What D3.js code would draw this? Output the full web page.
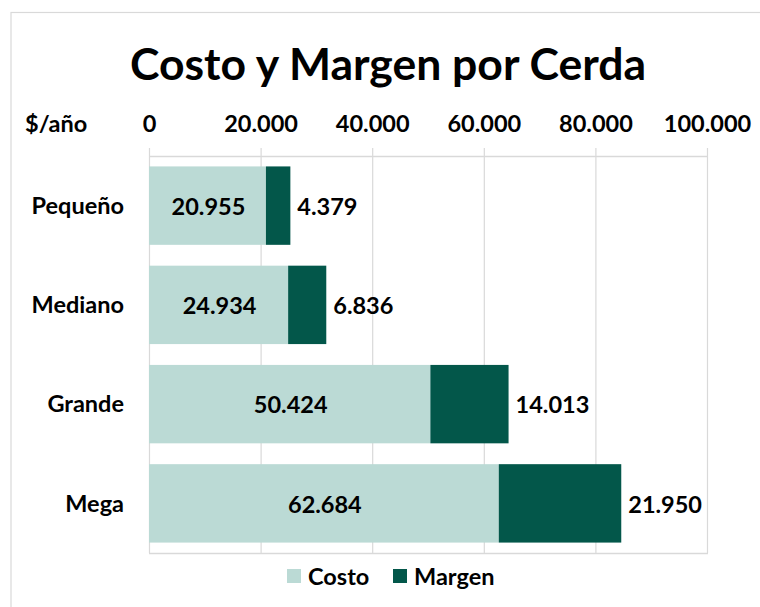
<!DOCTYPE html>
<html><head><meta charset="utf-8">
<script src="https://cdn.jsdelivr.net/npm/d3@7"></script>
<style>body{margin:0;background:#fff}svg{display:block}text{font-family:Lato,"Open Sans",sans-serif;font-weight:bold;fill:#000}</style>
</head><body><svg id="c" width="760" height="607"></svg>
<script>
const categories = ["Pequeño", "Mediano", "Grande", "Mega"];
const costo = [20955, 24934, 50424, 62684];
const margen = [4379, 6836, 14013, 21950];
const tickValues = [0, 20000, 40000, 60000, 80000, 100000];
const seriesNames = ["Costo", "Margen"];
const colors = ["#BBDAD5", "#03574A"];

const svg = d3.select("#c");
const fmt = v => d3.format(",")(v).replace(/,/g, ".");
const L = 149, R = 707, T = 156, B = 553;
const FS = "23.5px";
const x = d3.scaleLinear().domain([0, 100000]).range([L, R]);
const y = d3.scaleBand().domain(categories).range([T, B]).paddingInner(0.21).paddingOuter(0.105);

svg.append("rect").attr("x", 11).attr("y", 12.5).attr("width", 800).attr("height", 700)
  .attr("fill", "none").attr("stroke", "#d9d9d9").attr("stroke-width", 1.2);

svg.append("text").attr("x", 388).attr("y", 80).attr("text-anchor", "middle")
  .style("font-size", "44.5px").text("Costo y Margen por Cerda");

// gridlines
svg.append("g").selectAll("line").data(tickValues).join("line")
  .attr("x1", d => x(d) + 0.5).attr("x2", d => x(d) + 0.5).attr("y1", T - 8).attr("y2", B)
  .attr("stroke", "#d9d9d9").attr("stroke-width", 1.2);
svg.append("line").attr("x1", L).attr("x2", R + 1).attr("y1", T + 0.5).attr("y2", T + 0.5).attr("stroke", "#d9d9d9").attr("stroke-width", 1.5);
svg.append("line").attr("x1", L).attr("x2", R + 1).attr("y1", B + 0.5).attr("y2", B + 0.5).attr("stroke", "#d9d9d9").attr("stroke-width", 1.5);

// top axis labels
const ax = d3.axisTop(x).tickValues(tickValues).tickFormat(fmt).tickSize(0);
const gA = svg.append("g").attr("transform", `translate(0,${T - 24})`).call(ax);
gA.select(".domain").remove();
gA.selectAll("text").style("font-size", FS).style("font-family", "Lato,sans-serif").attr("dy", 0).attr("y", 0);
svg.append("text").attr("x", 25).attr("y", 132).style("font-size", FS).text("$/año");

// category labels
svg.append("g").selectAll("text").data(categories).join("text")
  .attr("x", 124).attr("y", d => y(d) + y.bandwidth() / 2).attr("dy", "0.35em")
  .attr("text-anchor", "end").style("font-size", FS).text(d => d);

const rows = categories.map((c, i) => ({ c, costo: costo[i], margen: margen[i] }));
const g = svg.append("g");
g.selectAll(".costo").data(rows).join("rect")
  .attr("x", x(0)).attr("y", d => y(d.c)).attr("width", d => x(d.costo) - x(0)).attr("height", y.bandwidth())
  .attr("fill", colors[0]);
g.selectAll(".margen").data(rows).join("rect")
  .attr("x", d => x(d.costo)).attr("y", d => y(d.c)).attr("width", d => x(d.costo + d.margen) - x(d.costo)).attr("height", y.bandwidth())
  .attr("fill", colors[1]);

g.selectAll(".lc").data(rows).join("text")
  .attr("x", d => (x(0) + x(d.costo)) / 2 + 1).attr("y", d => y(d.c) + y.bandwidth() / 2 + 1).attr("dy", "0.35em")
  .attr("text-anchor", "middle").style("font-size", FS).text(d => fmt(d.costo));
g.selectAll(".lm").data(rows).join("text")
  .attr("x", d => x(d.costo + d.margen) + 7).attr("y", d => y(d.c) + y.bandwidth() / 2 + 1).attr("dy", "0.35em")
  .attr("text-anchor", "start").style("font-size", FS).text(d => fmt(d.margen));

// legend
const leg = [{ n: seriesNames[0], c: colors[0], x: 287 }, { n: seriesNames[1], c: colors[1], x: 393 }];
const lg = svg.append("g");
leg.forEach(d => {
  lg.append("rect").attr("x", d.x).attr("y", 569).attr("width", 14).attr("height", 14).attr("fill", d.c);
  lg.append("text").attr("x", d.x + 21).attr("y", 585).style("font-size", FS).text(d.n);
});
</script></body></html>
